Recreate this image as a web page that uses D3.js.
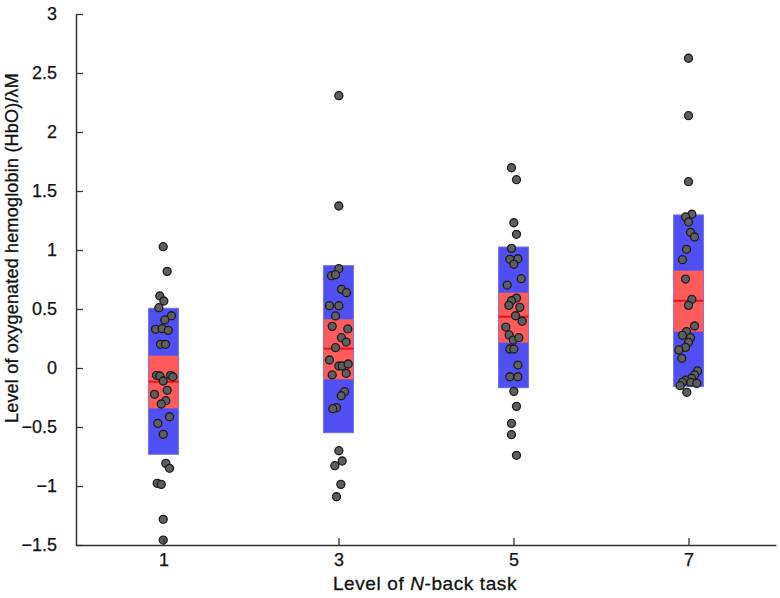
<!DOCTYPE html>
<html>
<head>
<meta charset="utf-8">
<script src="https://cdn.jsdelivr.net/npm/d3@7"></script>
<style>
  html, body { margin: 0; padding: 0; background: #fff; }
  text { font-family: "Liberation Sans", Arial, Helvetica, sans-serif; fill: #111; }
</style>
</head>
<body>
<svg id="chart" width="780" height="598"></svg>
<script>
// ---- Data ----
const levels = [1, 3, 5, 7];
const yTicks = [-1.5, -1, -0.5, 0, 0.5, 1, 1.5, 2, 2.5, 3];

// box statistics per level
const outerLow  = [-0.731, -0.548, -0.167, -0.158];
const innerLow  = [-0.342, -0.096,  0.215,  0.308];
const medians   = [-0.116,  0.164,  0.435,  0.570];
const innerHigh = [ 0.104,  0.413,  0.638,  0.825];
const outerHigh = [ 0.506,  0.867,  1.025,  1.297];

// individual observations (value) and horizontal jitter (in level units)
const values1 = [1.028, 0.819, 0.610, 0.568, 0.511, 0.443, 0.407, 0.328, 0.333, 0.319, 0.201, 0.201, -0.062, -0.068, -0.062, -0.074, -0.110, -0.189, -0.223, -0.277, -0.305, -0.413, -0.469, -0.562, -0.808, -0.850, -0.977, -0.986, -1.282, -1.458];
const jitter1 = [-0.003, 0.042, -0.042, 0.004, -0.053, 0.091, 0.015, -0.091, -0.015, 0.054, -0.034, 0.023, -0.080, -0.042, 0.080, 0.107, -0.003, 0.042, -0.103, 0.027, -0.026, 0.069, -0.065, -0.003, 0.027, 0.069, -0.072, -0.026, -0.003, -0.003];
const values3 = [2.308, 1.373, 0.842, 0.782, 0.791, 0.667, 0.638, 0.528, 0.528, 0.441, 0.353, 0.331, 0.257, 0.220, 0.172, 0.068, 0.017, 0.017, 0.034, -0.045, -0.059, -0.201, -0.235, -0.336, -0.345, -0.701, -0.788, -0.828, -0.986, -1.091];
const jitter3 = [0.004, 0.004, 0.004, -0.080, -0.034, 0.034, 0.091, -0.103, 0.004, -0.034, -0.072, 0.106, 0.034, 0.088, -0.034, -0.103, 0.004, 0.042, 0.111, 0.088, -0.072, 0.069, 0.031, -0.023, -0.065, 0.004, 0.042, -0.042, 0.027, -0.023];
const values5 = [1.697, 1.596, 1.231, 1.133, 1.014, 0.921, 0.926, 0.879, 0.757, 0.703, 0.593, 0.570, 0.531, 0.514, 0.443, 0.396, 0.347, 0.280, 0.237, 0.257, 0.161, 0.161, 0.025, -0.074, -0.074, -0.198, -0.325, -0.469, -0.565, -0.740];
const jitter5 = [-0.023, 0.034, 0.004, 0.034, -0.023, -0.042, 0.050, 0.004, 0.088, -0.072, 0.034, -0.023, -0.053, 0.072, 0.023, 0.099, -0.088, -0.050, -0.003, 0.061, -0.042, 0.004, 0.050, -0.042, 0.050, 0.004, 0.034, -0.023, -0.023, 0.034];
const values7 = [2.625, 2.138, 1.579, 1.303, 1.280, 1.237, 1.150, 1.110, 1.006, 0.918, 0.754, 0.582, 0.531, 0.356, 0.308, 0.277, 0.257, 0.218, 0.175, 0.153, 0.082, -0.025, -0.059, -0.087, -0.104, -0.121, -0.150, -0.121, -0.130, -0.206];
const jitter7 = [0.000, 0.000, 0.000, 0.038, -0.034, 0.000, 0.023, 0.069, -0.023, -0.069, -0.034, 0.038, 0.000, 0.069, -0.023, -0.069, 0.023, 0.000, -0.034, -0.111, -0.077, 0.103, 0.069, 0.034, -0.034, -0.069, -0.095, 0.027, 0.095, -0.019];

const allValues = [values1, values3, values5, values7];
const allJitter = [jitter1, jitter3, jitter5, jitter7];

const xLabel = ["Level of ", "N", "-back task"];
const yLabel = "Level of oxygenated hemoglobin (HbO)/\u03bbM";

// ---- Layout ----
const svg = d3.select("#chart");
const margin = { left: 76, right: 4, top: 14, bottom: 53 };
const W = 780, H = 598;

const x = d3.scaleLinear().domain([0, 8]).range([margin.left, W - margin.right]);
const y = d3.scaleLinear().domain([-1.5, 3]).range([H - margin.bottom, margin.top]);

const boxHalf = 0.17;

const boxes = levels.map((l, i) => ({
  l, lo: outerLow[i], ilo: innerLow[i], med: medians[i], ihi: innerHigh[i], hi: outerHigh[i]
}));

const g = svg.append("g");
g.selectAll("rect.outer").data(boxes).join("rect")
  .attr("class", "outer")
  .attr("x", d => x(d.l - boxHalf))
  .attr("width", d => x(d.l + boxHalf) - x(d.l - boxHalf))
  .attr("y", d => y(d.hi))
  .attr("height", d => y(d.lo) - y(d.hi))
  .attr("fill", "#4f4ff4")
  .attr("stroke", "#6a6ae8")
  .attr("stroke-width", 1);

g.selectAll("rect.inner").data(boxes).join("rect")
  .attr("class", "inner")
  .attr("x", d => x(d.l - boxHalf))
  .attr("width", d => x(d.l + boxHalf) - x(d.l - boxHalf))
  .attr("y", d => y(d.ihi))
  .attr("height", d => y(d.ilo) - y(d.ihi))
  .attr("fill", "#ff5b5b");

g.selectAll("line.med").data(boxes).join("line")
  .attr("class", "med")
  .attr("x1", d => x(d.l - boxHalf))
  .attr("x2", d => x(d.l + boxHalf))
  .attr("y1", d => y(d.med))
  .attr("y2", d => y(d.med))
  .attr("stroke", "#e8121c")
  .attr("stroke-width", 2);

const pts = [];
levels.forEach((l, i) => {
  allValues[i].forEach((v, j) => pts.push({ x: l + allJitter[i][j], v }));
});
g.selectAll("circle.pt").data(pts).join("circle")
  .attr("class", "pt")
  .attr("cx", d => x(d.x))
  .attr("cy", d => y(d.v))
  .attr("r", 4)
  .attr("fill", "#5e5e5e")
  .attr("stroke", "#1c1c1c")
  .attr("stroke-width", 1.3);

// axes
const yAxis = d3.axisLeft(y).tickValues(yTicks).tickSize(0).tickPadding(19)
  .tickFormat(d => (d < 0 ? "\u2212" : "") + Math.abs(d));
const yg = svg.append("g").attr("transform", `translate(${margin.left},0)`).call(yAxis);
yg.select(".domain").attr("stroke", "#333").attr("stroke-width", 1.5);
yg.selectAll(".tick text").attr("font-size", 18).attr("fill", "#111")
  .attr("stroke", "#111").attr("stroke-width", 0.25);
yg.selectAll(".tick").append("line").attr("x1", 0).attr("x2", 7).attr("stroke", "#333").attr("stroke-width", 1.3);

const xAxis = d3.axisBottom(x).tickValues(levels).tickSize(0).tickPadding(8)
  .tickFormat(d3.format("d"));
const xg = svg.append("g").attr("transform", `translate(0,${H - margin.bottom})`).call(xAxis);
xg.select(".domain").attr("stroke", "#333").attr("stroke-width", 1.5);
xg.selectAll(".tick text").attr("font-size", 18).attr("fill", "#111")
  .attr("stroke", "#111").attr("stroke-width", 0.25);
xg.selectAll(".tick").append("line").attr("y1", 0).attr("y2", -7).attr("stroke", "#333").attr("stroke-width", 1.3);

// axis labels
const xt = svg.append("text")
  .attr("x", 425).attr("y", 590)
  .attr("text-anchor", "middle")
  .attr("font-size", 19)
  .attr("letter-spacing", 0.6)
  .attr("stroke", "#111").attr("stroke-width", 0.3);
xt.append("tspan").text(xLabel[0]);
xt.append("tspan").attr("font-style", "italic").text(xLabel[1]);
xt.append("tspan").text(xLabel[2]);

svg.append("text")
  .attr("transform", "translate(18,248) rotate(-90)")
  .attr("text-anchor", "middle")
  .attr("font-size", 18)
  .attr("letter-spacing", 0.2)
  .attr("stroke", "#111").attr("stroke-width", 0.3)
  .text(yLabel);
</script>
</body>
</html>
